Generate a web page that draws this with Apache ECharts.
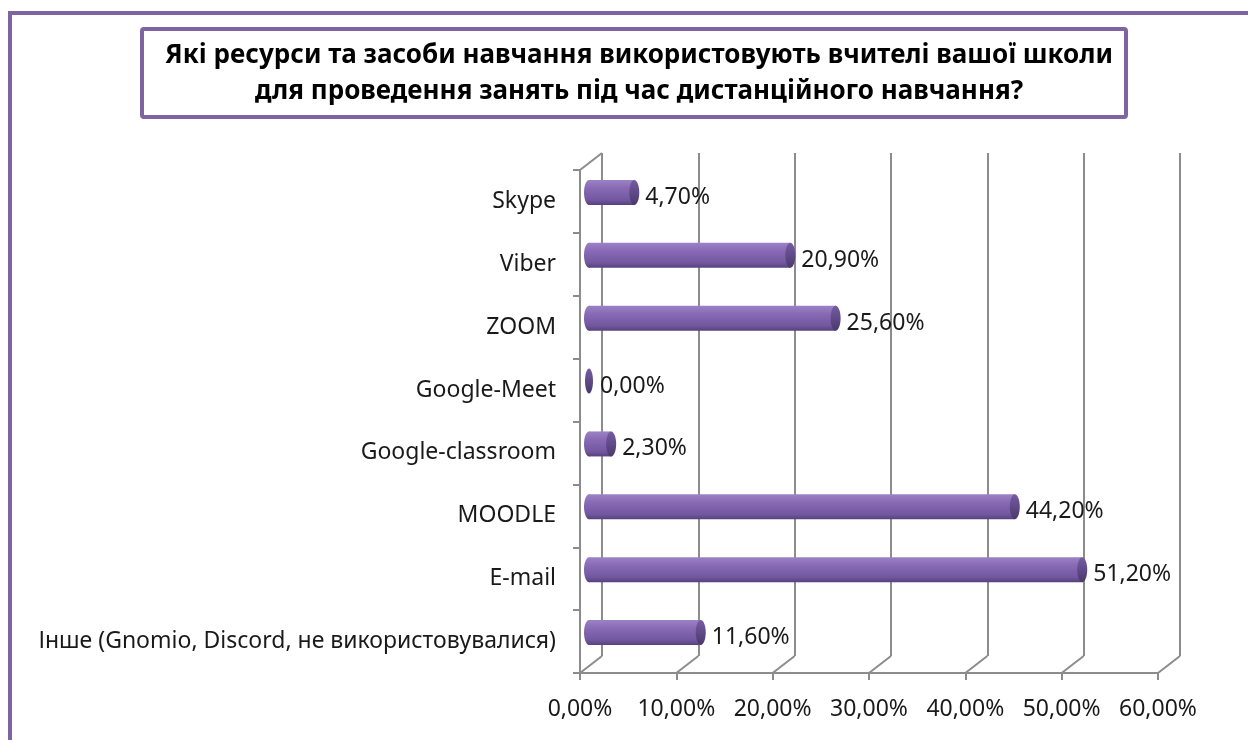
<!DOCTYPE html>
<html>
<head>
<meta charset="utf-8">
<script src="https://cdn.jsdelivr.net/npm/echarts@6/dist/echarts.min.js"></script>
<style>
  html, body { margin: 0; padding: 0; background: #fff; }
  #chart { width: 1248px; height: 740px; }
</style>
</head>
<body>
<div id="chart"></div>
<script>
// дані діаграми (знизу вгору, як на осі категорій)
const categories = [
    'Інше (Gnomio, Discord, не використовувалися)',
    'E-mail',
    'MOODLE',
    'Google-classroom',
    'Google-Meet',
    'ZOOM',
    'Viber',
    'Skype'
];
const values = [11.6, 51.2, 44.2, 2.3, 0.0, 25.6, 20.9, 4.7];
const xTicks = [0, 10, 20, 30, 40, 50, 60];
const titleLines = [
    'Які ресурси та засоби навчання використовують вчителі вашої школи',
    'для проведення занять під час дистанційного навчання?'
];

const FONT = '"Noto Sans", "Open Sans", sans-serif';
const GRID_COLOR = '#8c8c8c';
const DEPTH_X = 22, DEPTH_Y = -17;   // зсув задньої стінки
const BAR_DX = 9, BAR_DY = -9, BAR_H = 25, CAP_RX = 5;

function fmtPct(v) {
    return v.toFixed(2).replace('.', ',') + '%';
}

const chart = echarts.init(document.getElementById('chart'));

const barGradient = new echarts.graphic.LinearGradient(0, 0, 0, 1, [
    { offset: 0, color: '#9c82c4' },
    { offset: 0.35, color: '#8768b4' },
    { offset: 0.8, color: '#72579f' },
    { offset: 1, color: '#56417c' }
]);
const capGradient = new echarts.graphic.LinearGradient(0, 0, 0, 1, [
    { offset: 0, color: '#765ba1' },
    { offset: 0.5, color: '#604a88' },
    { offset: 1, color: '#4b396a' }
]);

// циліндричні смуги
function renderBar(params, api) {
    const idx = api.value(0);
    const val = api.value(1);
    const start = api.coord([0, idx]);
    const end = api.coord([val, idx]);
    const cy = start[1] + BAR_DY;
    const x0 = start[0] + BAR_DX;
    const x1 = end[0] + BAR_DX;
    const children = [];
    if (x1 - x0 > 0.5) {
        children.push({
            type: 'ellipse',
            shape: { cx: x0, cy: cy, rx: CAP_RX, ry: BAR_H / 2 },
            style: { fill: barGradient }
        });
        children.push({
            type: 'rect',
            shape: { x: x0, y: cy - BAR_H / 2, width: x1 - x0, height: BAR_H },
            style: { fill: barGradient }
        });
    }
    children.push({
        type: 'ellipse',
        shape: { cx: x1, cy: cy, rx: x1 - x0 > 0.5 ? CAP_RX : 4, ry: BAR_H / 2 },
        style: { fill: capGradient }
    });
    children.push({
        type: 'text',
        style: {
            text: fmtPct(val),
            x: x1 + CAP_RX + 6,
            y: cy + 5,
            fill: '#1a1a1a',
            font: '23px ' + FONT,
            verticalAlign: 'middle',
            align: 'left'
        }
    });
    return { type: 'group', children: children };
}

// діагоналі "підлоги" та лівої стінки
function renderDepth(params, api) {
    const v = api.value(0);
    const p = api.coord([v, 0]);
    const band = api.size([0, 1])[1];
    const yb = p[1] + band / 2;
    const lines = [{
        type: 'line',
        shape: { x1: p[0], y1: yb, x2: p[0] + DEPTH_X, y2: yb + DEPTH_Y },
        style: { stroke: GRID_COLOR, lineWidth: 2 }
    }];
    if (v === 0) {
        const yt = yb - band * categories.length;
        lines.push({
            type: 'line',
            shape: { x1: p[0], y1: yt, x2: p[0] + DEPTH_X, y2: yt + DEPTH_Y },
            style: { stroke: GRID_COLOR, lineWidth: 2 }
        });
    }
    return { type: 'group', children: lines };
}

const option = {
    animation: false,
    backgroundColor: '#fff',
    title: {
        text: titleLines.join('\n'),
        left: 634,
        top: 33,
        textAlign: 'center',
        textStyle: {
            fontFamily: FONT,
            fontWeight: 'bold',
            fontSize: 26,
            lineHeight: 36,
            color: '#000'
        }
    },
    graphic: [
        {
            type: 'polyline',
            shape: { points: [[10, 745], [10, 13], [1255, 13]] },
            style: { stroke: '#8064a2', lineWidth: 4, fill: null },
            z: 0
        },
        {
            type: 'rect',
            shape: { x: 142, y: 29, width: 984, height: 88, r: 2 },
            style: { stroke: '#8064a2', lineWidth: 4, fill: '#fff' },
            z: 0
        }
    ],
    grid: [
        { left: 580, top: 170, width: 578, height: 503 },
        { left: 580 + DEPTH_X, top: 170 + DEPTH_Y, width: 578, height: 503 }
    ],
    xAxis: [
        {
            gridIndex: 0, type: 'value', min: 0, max: 60, interval: 10,
            axisLine: { show: true, lineStyle: { color: GRID_COLOR, width: 2 } },
            axisTick: { show: true, length: 7, lineStyle: { color: GRID_COLOR, width: 2 } },
            splitLine: { show: false },
            axisLabel: {
                margin: 25,
                color: '#1a1a1a',
                fontFamily: FONT,
                fontSize: 23,
                formatter: v => xTicks.includes(v) ? fmtPct(v) : ''
            }
        },
        {
            gridIndex: 1, type: 'value', min: 0, max: 60, interval: 10,
            axisLine: { show: false }, axisTick: { show: false }, axisLabel: { show: false },
            splitLine: { show: true, lineStyle: { color: GRID_COLOR, width: 2 } }
        }
    ],
    yAxis: [
        {
            gridIndex: 0, type: 'category', data: categories,
            axisLine: { show: true, lineStyle: { color: GRID_COLOR, width: 2 } },
            axisTick: { show: true, length: 7, lineStyle: { color: GRID_COLOR, width: 2 } },
            splitLine: { show: false },
            axisLabel: {
                margin: 24,
                color: '#1a1a1a',
                fontFamily: FONT,
                fontSize: 23,
                padding: [8, 0, 0, 0]
            }
        },
        {
            gridIndex: 1, type: 'category', data: categories, show: false
        }
    ],
    series: [
        {
            type: 'custom',
            xAxisIndex: 0, yAxisIndex: 0,
            renderItem: renderDepth,
            data: xTicks.map(v => [v]),
            encode: { x: 0 },
            silent: true,
            z: 1
        },
        {
            type: 'custom',
            xAxisIndex: 0, yAxisIndex: 0,
            renderItem: renderBar,
            data: values.map((v, i) => [i, v]),
            encode: { y: 0, x: 1 },
            z: 3
        }
    ]
};

chart.setOption(option);
</script>
</body>
</html>
